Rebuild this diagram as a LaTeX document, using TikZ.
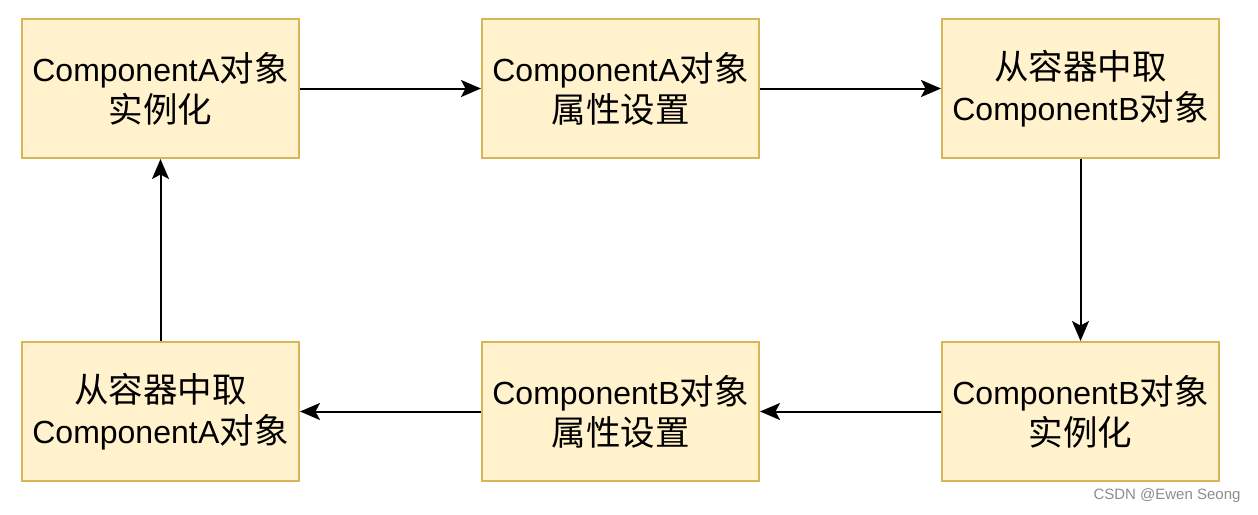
\documentclass[tikz,border=0pt]{standalone}
\usepackage{fontspec}
\setmainfont{Liberation Sans}
\newfontfamily\cjk{Noto Sans CJK SC}
\newcommand{\zh}[1]{{\cjk\fontsize{34.5}{41}\selectfont #1}}
\usetikzlibrary{arrows.meta}
\definecolor{boxfill}{HTML}{FFF2CC}
\definecolor{boxline}{HTML}{D6B656}

\begin{document}
\begin{tikzpicture}[x=1pt,y=1pt]
    \tikzset{Box/.style={%
            shape=rectangle,%
            draw=boxline,%
            fill=boxfill,%
            line width=2pt,%
            minimum width=277pt,%
            minimum height=139pt,%
            inner sep=0pt,%
            align=center,%
            font=\fontsize{32}{41}\selectfont,%
            node distance=460pt,%
        }}
    \tikzset{Flow/.style={%
            -{Stealth[length=20pt,width=17pt,inset=4.5pt]},%
            line width=2pt,%
        }}
    \useasboundingbox (0,0) rectangle (1258,-514);

    \node[Box] (1) at (160.5,-88.5) {Component\kern0.5pt A\zh{对象}\\\zh{实例化}};
    \node[Box, right of=1] (2) {Component\kern0.5pt A\zh{对象}\\\zh{属性设置}};
    \node[Box, right of=2] (3) {\zh{从容器中取}\\Component\kern0.5pt B\zh{对象}};
    \node[Box, below of=3, node distance=323pt] (4) {Component\kern0.5pt B\zh{对象}\\\zh{实例化}};
    \node[Box, left of=4] (5) {Component\kern0.5pt B\zh{对象}\\\zh{属性设置}};
    \node[Box, left of=5] (6) {\zh{从容器中取}\\Component\kern0.5pt A\zh{对象}};

    \path (1) edge[Flow] (2);
    \path (2) edge[Flow] (3);
    \path (3) edge[Flow] (4);
    \path (4) edge[Flow] (5);
    \path (5) edge[Flow] (6);
    \path (6) edge[Flow] (1);

    \node[anchor=east, text=black!45, font=\fontsize{15}{17}\selectfont] (wm) at (1244,-496) {CSDN @Ewen Seong};
\end{tikzpicture}
\end{document}
